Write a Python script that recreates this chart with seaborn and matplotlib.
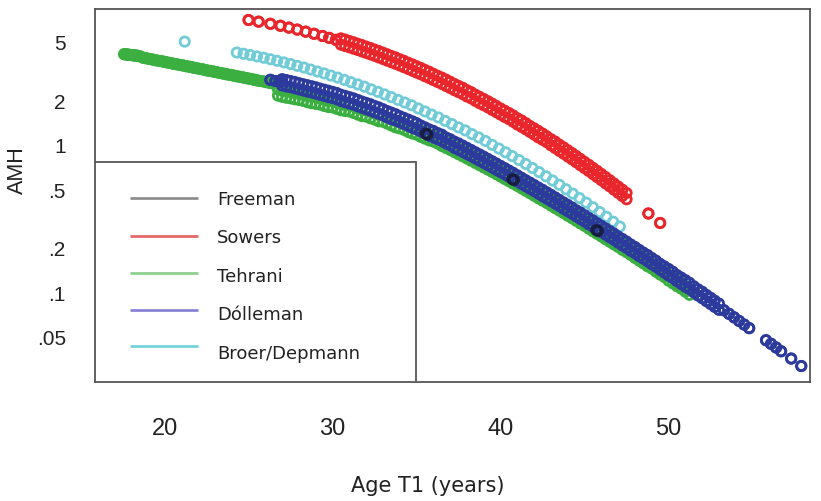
import matplotlib
matplotlib.use("Agg")
import matplotlib.pyplot as plt
from matplotlib.patches import Rectangle
from matplotlib.ticker import NullLocator
import pandas as pd
import seaborn as sns

# Predicted AMH by age for each model.  Where many women share an age the
# predictions spread into a band, so each age carries an upper and a lower
# value (identical where the band is only one marker wide).

sowers_age = [25.0, 25.6, 26.3, 26.9, 27.4, 27.9, 28.4, 28.9, 29.4, 29.8, 30.2,
              30.5, 30.75, 31.0, 31.25, 31.5, 31.75, 32.0, 32.25, 32.5, 32.75,
              33.0, 33.25, 33.5, 33.75, 34.0, 34.25, 34.5, 34.75, 35.0, 35.25,
              35.5, 35.75, 36.0, 36.25, 36.5, 36.75, 37.0, 37.25, 37.5, 37.75,
              38.0, 38.25, 38.5, 38.75, 39.0, 39.25, 39.5, 39.75, 40.0, 40.25,
              40.5, 40.75, 41.0, 41.25, 41.5, 41.75, 42.0, 42.25, 42.5, 42.75,
              43.0, 43.25, 43.5, 43.75, 44.0, 44.25, 44.5, 44.75, 45.0, 45.25,
              45.5, 45.75, 46.0, 46.25, 46.5, 46.75, 47.0, 47.25, 47.5,
              48.8, 49.5]
sowers_hi = [6.99, 6.81, 6.59, 6.39, 6.21, 6.02, 5.83, 5.64, 5.45, 5.29, 5.13,
             5.25, 5.15, 5.04, 4.94, 4.83, 4.73, 4.62, 4.52, 4.41, 4.31,
             4.20, 4.10, 3.99, 3.90, 3.79, 3.70, 3.59, 3.50, 3.40, 3.31,
             3.21, 3.12, 3.02, 2.93, 2.85, 2.76, 2.67, 2.58, 2.50, 2.43,
             2.34, 2.27, 2.18, 2.11, 2.04, 1.97, 1.90, 1.83, 1.76, 1.70,
             1.64, 1.58, 1.51, 1.46, 1.40, 1.34, 1.29, 1.24, 1.19, 1.14,
             1.09, 1.05, 1.00, 0.960, 0.918, 0.878, 0.839, 0.801, 0.765, 0.731,
             0.697, 0.665, 0.634, 0.604, 0.575, 0.547, 0.521, 0.496, 0.471,
             0.342, 0.295]
sowers_lo = [6.99, 6.81, 6.59, 6.39, 6.21, 6.02, 5.83, 5.64, 5.45, 5.29, 5.13,
             4.76, 4.66, 4.57, 4.47, 4.38, 4.28, 4.19, 4.09, 4.00, 3.90,
             3.81, 3.71, 3.62, 3.53, 3.44, 3.35, 3.26, 3.17, 3.08, 3.00,
             2.91, 2.83, 2.74, 2.66, 2.58, 2.50, 2.42, 2.34, 2.27, 2.20,
             2.12, 2.06, 1.98, 1.91, 1.85, 1.79, 1.72, 1.66, 1.60, 1.54,
             1.49, 1.43, 1.37, 1.32, 1.27, 1.22, 1.17, 1.12, 1.08, 1.04,
             0.990, 0.949, 0.908, 0.870, 0.832, 0.796, 0.761, 0.726, 0.694, 0.663,
             0.632, 0.603, 0.575, 0.547, 0.522, 0.496, 0.472, 0.449, 0.427,
             0.342, 0.295]

tehrani_age = [17.6, 17.7, 17.8, 17.9, 18.0, 18.1, 18.2, 18.3, 18.4, 18.5,
               18.7, 18.9, 19.1, 19.3, 19.5, 19.7, 19.9, 20.1, 20.3, 20.5,
               20.7, 20.9, 21.1, 21.3, 21.5, 21.7, 21.9, 22.1, 22.3, 22.5,
               22.7, 22.9, 23.1, 23.3, 23.5, 23.7, 23.9, 24.1, 24.3, 24.5,
               24.7, 24.9, 25.1, 25.3, 25.5, 25.7, 25.9, 26.1, 26.3, 26.5,
               26.75, 27.0, 27.25, 27.5, 27.75, 28.0, 28.25, 28.5, 28.75, 29.0,
               29.25, 29.5, 29.75, 30.0, 30.25, 30.5, 30.75, 31.0, 31.25, 31.5,
               31.75, 32.0, 32.25, 32.5, 32.75, 33.0, 33.25, 33.5, 33.75, 34.0,
               34.25, 34.5, 34.75, 35.0, 35.25, 35.5, 35.75, 36.0, 36.25, 36.5,
               36.75, 37.0, 37.25, 37.5, 37.75, 38.0, 38.25, 38.5, 38.75, 39.0,
               39.25, 39.5, 39.75, 40.0, 40.25, 40.5, 40.75, 41.0, 41.25, 41.5,
               41.75, 42.0, 42.25, 42.5, 42.75, 43.0, 43.25, 43.5, 43.75, 44.0,
               44.25, 44.5, 44.75, 45.0, 45.25, 45.5, 45.75, 46.0, 46.25, 46.5,
               46.75, 47.0, 47.25, 47.5, 47.75, 48.0, 48.25, 48.5, 48.75, 49.0,
               49.25, 49.5, 49.75, 50.0, 50.25, 50.5, 50.75, 51.0, 51.25]
tehrani_hi = [4.10, 4.09, 4.08, 4.06, 4.05, 4.04, 4.02, 4.01, 4.00, 3.98,
              3.89, 3.85, 3.81, 3.77, 3.73, 3.69, 3.66, 3.62, 3.58, 3.54,
              3.51, 3.47, 3.44, 3.40, 3.37, 3.33, 3.30, 3.26, 3.23, 3.19,
              3.16, 3.13, 3.10, 3.06, 3.03, 3.00, 2.97, 2.94, 2.91, 2.88,
              2.85, 2.82, 2.79, 2.76, 2.73, 2.70, 2.68, 2.65, 2.62, 2.59,
              2.37, 2.33, 2.30, 2.27, 2.24, 2.22, 2.18, 2.14, 2.11, 2.09,
              2.06, 2.02, 1.98, 1.97, 1.93, 1.89, 1.86, 1.85, 1.81, 1.76,
              1.72, 1.71, 1.67, 1.63, 1.59, 1.58, 1.53, 1.49, 1.45, 1.43,
              1.39, 1.34, 1.31, 1.29, 1.25, 1.22, 1.18, 1.16, 1.12, 1.08,
              1.05, 1.02, 0.983, 0.950, 0.920, 0.889, 0.859, 0.830, 0.802, 0.774,
              0.748, 0.721, 0.696, 0.671, 0.647, 0.624, 0.601, 0.580, 0.558, 0.538,
              0.518, 0.498, 0.479, 0.461, 0.444, 0.427, 0.411, 0.395, 0.379, 0.364,
              0.351, 0.336, 0.323, 0.311, 0.298, 0.286, 0.275, 0.264, 0.253, 0.243,
              0.233, 0.224, 0.214, 0.206, 0.197, 0.189, 0.181, 0.173, 0.166, 0.160,
              0.152, 0.146, 0.140, 0.132, 0.127, 0.122, 0.117, 0.111, 0.106]
tehrani_lo = [4.10, 4.09, 4.08, 4.06, 4.05, 4.04, 4.02, 4.01, 4.00, 3.98,
              3.89, 3.85, 3.81, 3.77, 3.73, 3.69, 3.66, 3.62, 3.58, 3.54,
              3.51, 3.47, 3.44, 3.40, 3.37, 3.33, 3.30, 3.26, 3.23, 3.19,
              3.16, 3.13, 3.10, 3.06, 3.03, 3.00, 2.97, 2.94, 2.91, 2.88,
              2.85, 2.82, 2.79, 2.76, 2.73, 2.70, 2.68, 2.65, 2.62, 2.59,
              2.15, 2.11, 2.08, 2.06, 2.03, 2.01, 1.98, 1.94, 1.91, 1.89,
              1.87, 1.83, 1.80, 1.79, 1.75, 1.71, 1.69, 1.68, 1.64, 1.60,
              1.56, 1.55, 1.51, 1.48, 1.44, 1.43, 1.39, 1.35, 1.31, 1.29,
              1.26, 1.22, 1.19, 1.17, 1.13, 1.10, 1.07, 1.05, 1.02, 0.981,
              0.951, 0.922, 0.891, 0.862, 0.834, 0.806, 0.779, 0.752, 0.727, 0.702,
              0.678, 0.654, 0.631, 0.608, 0.586, 0.565, 0.545, 0.526, 0.506, 0.487,
              0.469, 0.451, 0.434, 0.418, 0.403, 0.387, 0.372, 0.358, 0.344, 0.330,
              0.318, 0.305, 0.293, 0.282, 0.270, 0.259, 0.249, 0.239, 0.229, 0.220,
              0.211, 0.203, 0.194, 0.187, 0.179, 0.171, 0.164, 0.157, 0.150, 0.145,
              0.138, 0.132, 0.127, 0.120, 0.115, 0.110, 0.106, 0.101, 0.0962]

dolleman_age = [26.3, 26.6, 26.9,
                27.0, 27.25, 27.5, 27.75, 28.0, 28.25, 28.5, 28.75, 29.0, 29.25,
                29.5, 29.75, 30.0, 30.25, 30.5, 30.75, 31.0, 31.25, 31.5, 31.75,
                32.0, 32.25, 32.5, 32.75, 33.0, 33.25, 33.5, 33.75, 34.0, 34.25,
                34.5, 34.75, 35.0, 35.25, 35.5, 35.75, 36.0, 36.25, 36.5, 36.75,
                37.0, 37.25, 37.5, 37.75, 38.0, 38.25, 38.5, 38.75, 39.0, 39.25,
                39.5, 39.75, 40.0, 40.25, 40.5, 40.75, 41.0, 41.25, 41.5, 41.75,
                42.0, 42.25, 42.5, 42.75, 43.0, 43.25, 43.5, 43.75, 44.0, 44.25,
                44.5, 44.75, 45.0, 45.25, 45.5, 45.75, 46.0, 46.25, 46.5, 46.75,
                47.0, 47.25, 47.5, 47.75, 48.0, 48.25, 48.5, 48.75, 49.0, 49.25,
                49.5, 49.75, 50.0, 50.25, 50.5, 50.75, 51.0, 51.25, 51.5, 51.75,
                52.0, 52.25, 52.5, 52.75, 53.0,
                53.3, 53.6, 53.9, 54.2, 54.5, 54.8, 55.8, 56.1, 56.4, 56.7,
                57.3, 57.9]
dolleman_hi = [2.75, 2.70, 2.66,
               2.78, 2.74, 2.70, 2.66, 2.61, 2.57, 2.53, 2.49, 2.45, 2.40,
               2.36, 2.32, 2.28, 2.24, 2.18, 2.14, 2.10, 2.06, 2.01, 1.96,
               1.92, 1.88, 1.83, 1.79, 1.74, 1.69, 1.65, 1.61, 1.56, 1.52,
               1.48, 1.44, 1.40, 1.35, 1.31, 1.27, 1.24, 1.20, 1.17, 1.12,
               1.09, 1.05, 1.02, 0.986, 0.953, 0.921, 0.889, 0.859, 0.830, 0.801,
               0.773, 0.746, 0.719, 0.694, 0.669, 0.645, 0.621, 0.597, 0.575, 0.554,
               0.534, 0.513, 0.495, 0.476, 0.458, 0.440, 0.423, 0.406, 0.391, 0.376,
               0.360, 0.347, 0.333, 0.319, 0.307, 0.294, 0.282, 0.271, 0.260, 0.250,
               0.239, 0.230, 0.221, 0.211, 0.203, 0.194, 0.186, 0.179, 0.171, 0.164,
               0.156, 0.150, 0.144, 0.138, 0.131, 0.126, 0.121, 0.116, 0.110, 0.105,
               0.101, 0.0961, 0.0919, 0.0878, 0.0839,
               0.0756, 0.0715, 0.0677, 0.0640, 0.0605, 0.0572, 0.0474, 0.0448, 0.0423, 0.0399,
               0.0356, 0.0317]
dolleman_lo = [2.75, 2.70, 2.66,
               2.52, 2.48, 2.45, 2.41, 2.37, 2.33, 2.29, 2.26, 2.22, 2.18,
               2.14, 2.10, 2.07, 2.03, 1.98, 1.94, 1.90, 1.87, 1.82, 1.78,
               1.74, 1.70, 1.66, 1.62, 1.58, 1.53, 1.49, 1.46, 1.42, 1.38,
               1.34, 1.30, 1.27, 1.23, 1.19, 1.15, 1.12, 1.09, 1.06, 1.02,
               0.990, 0.952, 0.923, 0.894, 0.864, 0.835, 0.806, 0.779, 0.752, 0.726,
               0.701, 0.676, 0.652, 0.629, 0.606, 0.585, 0.563, 0.542, 0.522, 0.503,
               0.485, 0.466, 0.448, 0.431, 0.415, 0.399, 0.384, 0.368, 0.354, 0.341,
               0.327, 0.314, 0.302, 0.289, 0.278, 0.267, 0.256, 0.246, 0.236, 0.227,
               0.217, 0.208, 0.200, 0.191, 0.184, 0.176, 0.169, 0.162, 0.155, 0.149,
               0.142, 0.136, 0.130, 0.125, 0.119, 0.114, 0.109, 0.105, 0.100, 0.0952,
               0.0912, 0.0871, 0.0833, 0.0796, 0.0761,
               0.0756, 0.0715, 0.0677, 0.0640, 0.0605, 0.0572, 0.0474, 0.0448, 0.0423, 0.0399,
               0.0356, 0.0317]

broer_age = [21.2, 24.3, 24.7, 25.1, 25.5, 25.9, 26.3, 26.7, 27.1, 27.5,
             27.9, 28.3, 28.7, 29.1, 29.5, 29.9, 30.3, 30.7, 31.1, 31.5,
             31.9, 32.3, 32.7, 33.1, 33.5, 33.9, 34.3, 34.7, 35.1, 35.5,
             35.9, 36.3, 36.7, 37.1, 37.5, 37.9, 38.3, 38.7, 39.1, 39.5,
             39.9, 40.3, 40.7, 41.1, 41.5, 41.9, 42.3, 42.7, 43.1, 43.5,
             43.9, 44.3, 44.7, 45.1, 45.5, 45.9, 46.3, 46.7, 47.1]
broer_amh = [4.99, 4.21, 4.13, 4.05, 3.96, 3.88, 3.79, 3.70, 3.61, 3.52,
             3.42, 3.33, 3.23, 3.13, 3.04, 2.94, 2.85, 2.75, 2.65, 2.56,
             2.47, 2.37, 2.28, 2.19, 2.10, 2.01, 1.93, 1.85, 1.76, 1.68,
             1.60, 1.53, 1.45, 1.38, 1.31, 1.25, 1.18, 1.12, 1.06, 0.998,
             0.942, 0.888, 0.837, 0.787, 0.740, 0.695, 0.652, 0.611, 0.572, 0.535,
             0.499, 0.466, 0.435, 0.405, 0.377, 0.350, 0.325, 0.301, 0.279]

freeman_age = [35.55, 35.65, 40.7, 40.8, 45.7, 45.8]
freeman_amh = [1.19, 1.17, 0.584, 0.575, 0.264, 0.260]

legend_order = ["Freeman", "Sowers", "Tehrani", "Dólleman", "Broer/Depmann"]
marker_colors = {"Freeman": "#161a38", "Sowers": "#e8262b", "Tehrani": "#3bb041",
                 "Dólleman": "#2b3a9c", "Broer/Depmann": "#72ccd8"}
legend_colors = {"Freeman": "#8f8f8f", "Sowers": "#e46a6a", "Tehrani": "#8fd08f",
                 "Dólleman": "#8a84d6", "Broer/Depmann": "#74d4dc"}


def band(model, age, hi, lo):
    return pd.concat([pd.DataFrame({"age": age, "amh": hi, "model": model}),
                      pd.DataFrame({"age": age, "amh": lo, "model": model})])


df = pd.concat([
    band("Tehrani", tehrani_age, tehrani_hi, tehrani_lo),
    band("Sowers", sowers_age, sowers_hi, sowers_lo),
    pd.DataFrame({"age": broer_age, "amh": broer_amh, "model": "Broer/Depmann"}),
    band("Dólleman", dolleman_age, dolleman_hi, dolleman_lo),
    pd.DataFrame({"age": freeman_age, "amh": freeman_amh, "model": "Freeman"}),
], ignore_index=True)
draw_order = ["Tehrani", "Sowers", "Broer/Depmann", "Dólleman", "Freeman"]

sns.set_style("white")
plt.rcParams["font.family"] = ["DejaVu Sans"]

fig = plt.figure(figsize=(8.21, 5.02), dpi=100)
ax = fig.add_axes([95 / 821, 1 - 383 / 502, 715 / 821, 373 / 502])

for name in draw_order:
    sub = df[df["model"] == name]
    sns.scatterplot(data=sub, x="age", y="amh", ax=ax, s=45, marker="o",
                    facecolor="none", edgecolor=marker_colors[name],
                    linewidth=2.0, alpha=0.8 if name == "Freeman" else 1.0,
                    legend=False, zorder=3)

ax.set_yscale("log")
ax.set_xlim(15.86, 58.42)
ax.set_ylim(0.0247, 8.3)
ax.set_xticks([20, 30, 40, 50])
ax.set_xticklabels(["20", "30", "40", "50"])
ax.set_yticks([0.05, 0.1, 0.2, 0.5, 1, 2, 5])
ax.set_yticklabels([".05", ".1", ".2", ".5", "1", "2", "5"])
ax.yaxis.set_minor_locator(NullLocator())
ax.xaxis.set_minor_locator(NullLocator())
ax.tick_params(axis="both", direction="out", length=11, width=1.2,
               color="#555555", labelcolor="#222222",
               labelfontfamily="Liberation Sans")
ax.tick_params(axis="x", pad=14, labelsize=17)
ax.tick_params(axis="y", pad=10, labelsize=15)

for sp in ax.spines.values():
    sp.set_visible(True)
    sp.set_color("#555555")
    sp.set_linewidth(1.3)

ax.set_xlabel("Age T1 (years)", fontsize=15, color="#222222")
ax.xaxis.set_label_coords(0.466, -0.276)
ax.xaxis.label.set_va("center")
ax.set_ylabel("AMH", fontsize=15.5, color="#222222",
              fontfamily=["Liberation Sans", "DejaVu Sans"])
ax.yaxis.set_label_coords(-0.108, 0.571)
ax.yaxis.label.set_va("center")

# Legend box in the lower-left corner of the plot area
ax.add_patch(Rectangle((0, 0), 0.449, 0.590, transform=ax.transAxes,
                       facecolor="white", edgecolor="#555555", linewidth=1.3,
                       zorder=5))
line_y = [199, 237, 273.5, 311, 347]
text_base = [205, 243, 282, 320, 359]
for name, ly, tb in zip(legend_order, line_y, text_base):
    yl = (383 - ly) / 373
    yt = (383 - tb) / 373
    ax.plot([0.049, 0.144], [yl, yl], transform=ax.transAxes,
            color=legend_colors[name], linewidth=2, solid_capstyle="butt",
            zorder=6)
    ax.text(0.171, yt, name, transform=ax.transAxes, fontsize=13,
            va="baseline", ha="left", color="#222222", zorder=6)

fig.savefig("out.png", dpi=100)
